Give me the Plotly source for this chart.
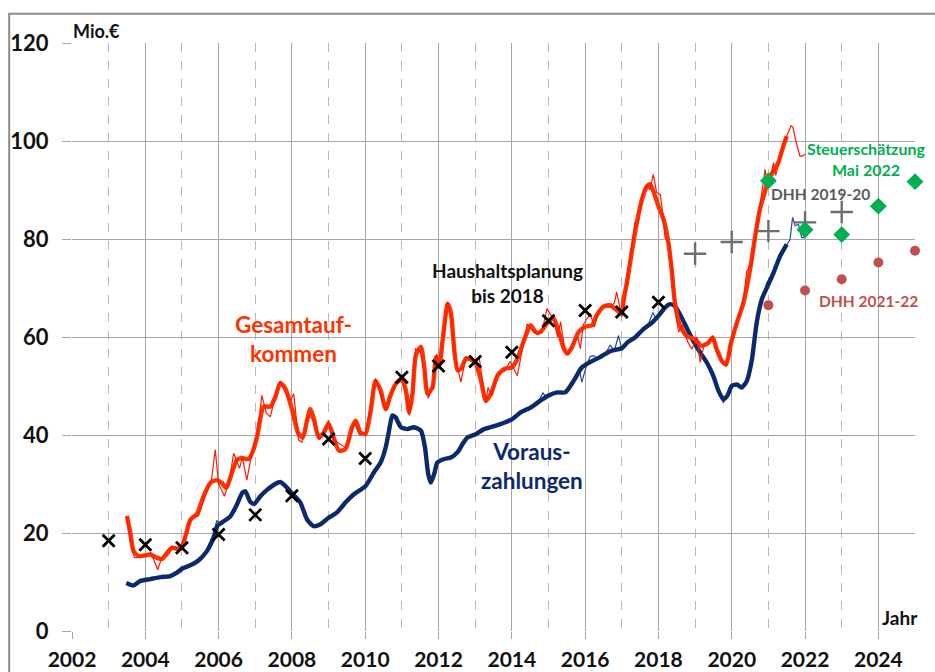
import plotly.graph_objects as go

# ---------------- data ----------------
# Gesamtaufkommen, smoothed (thick red)
ges_x = [2003.50, 2003.59, 2003.68, 2003.82, 2003.98, 2004.14, 2004.27, 2004.45, 2004.59, 2004.73,
         2004.86, 2004.98, 2005.12, 2005.23, 2005.41, 2005.59, 2005.77, 2005.95, 2006.09, 2006.21,
         2006.36, 2006.50, 2006.64, 2006.82, 2006.95, 2007.05, 2007.23, 2007.41, 2007.55, 2007.68,
         2007.82, 2008.00, 2008.18, 2008.30, 2008.41, 2008.50, 2008.59, 2008.73, 2008.87, 2009.00,
         2009.14, 2009.28, 2009.46, 2009.64, 2009.74, 2009.87, 2010.01, 2010.15, 2010.28, 2010.42,
         2010.56, 2010.69, 2010.83, 2011.00, 2011.11, 2011.20, 2011.29, 2011.38, 2011.52, 2011.61,
         2011.70, 2011.84, 2011.93, 2012.02, 2012.11, 2012.25, 2012.34, 2012.43, 2012.52, 2012.61,
         2012.75, 2012.89, 2013.00, 2013.15, 2013.29, 2013.43, 2013.61, 2013.79, 2014.00, 2014.15,
         2014.33, 2014.51, 2014.65, 2014.78, 2014.99, 2015.14, 2015.28, 2015.42, 2015.51, 2015.64,
         2015.82, 2016.00, 2016.19, 2016.32, 2016.50, 2016.68, 2016.86, 2017.00, 2017.05, 2017.14,
         2017.27, 2017.41, 2017.55, 2017.68, 2017.77, 2017.86, 2018.00, 2018.14, 2018.27, 2018.36,
         2018.45, 2018.59, 2018.77, 2019.00, 2019.18, 2019.36, 2019.48, 2019.59, 2019.73, 2019.85,
         2019.98, 2020.14, 2020.32, 2020.50, 2020.64, 2020.77, 2020.91, 2020.98, 2021.14, 2021.27,
         2021.41, 2021.50]
ges_y = [23.5, 20.0, 16.3, 15.3, 15.4, 15.6, 15.1, 14.7, 15.8, 17.0,
         16.8, 17.0, 20.0, 22.7, 23.9, 27.5, 30.2, 30.8, 30.2, 29.2,
         32.2, 34.9, 35.3, 35.1, 37.0, 39.7, 45.8, 45.8, 47.8, 50.6,
         49.5, 45.3, 40.2, 39.5, 42.9, 45.3, 43.6, 39.5, 40.5, 42.3,
         39.5, 36.8, 37.1, 41.6, 42.9, 40.5, 40.2, 45.0, 51.1, 49.1,
         45.3, 48.1, 50.4, 51.5, 49.1, 44.6, 48.4, 56.2, 58.0, 53.9,
         48.4, 49.8, 55.9, 54.2, 59.3, 66.8, 64.8, 57.3, 53.2, 53.5,
         55.6, 55.4, 54.9, 51.4, 47.0, 48.4, 52.1, 53.5, 53.8, 55.5,
         59.3, 62.4, 61.0, 61.0, 63.1, 63.8, 61.0, 57.6, 56.6, 57.9,
         61.0, 62.1, 62.4, 64.5, 66.2, 66.5, 65.5, 64.8, 67.7, 71.1,
         77.2, 83.3, 88.1, 90.7, 91.2, 89.8, 86.7, 84.0, 79.3, 73.8,
         67.0, 62.2, 60.2, 59.5, 58.2, 58.8, 59.9, 57.5, 55.1, 54.4,
         58.8, 62.9, 67.0, 73.8, 80.6, 86.1, 89.8, 91.8, 93.9, 95.6,
         99.0, 101.0]

# Gesamtaufkommen, monthly raw (thin red)
ges_raw_x = [2003.50, 2003.60, 2003.70, 2003.85, 2004.00, 2004.15, 2004.34, 2004.45, 2004.60, 2004.75,
             2004.90, 2005.00, 2005.15, 2005.30, 2005.45, 2005.65, 2005.80, 2005.91, 2006.00, 2006.16,
             2006.30, 2006.41, 2006.57, 2006.65, 2006.77, 2006.90, 2007.05, 2007.18, 2007.30, 2007.41,
             2007.55, 2007.68, 2007.80, 2007.95, 2008.05, 2008.18, 2008.27, 2008.45, 2008.60, 2008.75,
             2008.90, 2009.00, 2009.14, 2009.32, 2009.45, 2009.55, 2009.70, 2009.85, 2010.00, 2010.15,
             2010.28, 2010.42, 2010.56, 2010.70, 2010.85, 2011.00, 2011.11, 2011.20, 2011.30, 2011.37,
             2011.50, 2011.62, 2011.72, 2011.85, 2011.95, 2012.05, 2012.15, 2012.25, 2012.35, 2012.45,
             2012.61, 2012.75, 2012.90, 2013.00, 2013.11, 2013.22, 2013.29, 2013.35, 2013.45, 2013.60,
             2013.80, 2013.95, 2014.15, 2014.30, 2014.42, 2014.55, 2014.70, 2014.85, 2014.96, 2015.14,
             2015.25, 2015.33, 2015.45, 2015.55, 2015.65, 2015.80, 2015.87, 2015.95, 2016.14, 2016.25,
             2016.35, 2016.50, 2016.68, 2016.80, 2016.86, 2017.00, 2017.05, 2017.15, 2017.27, 2017.36,
             2017.45, 2017.55, 2017.68, 2017.77, 2017.86, 2017.95, 2018.05, 2018.14, 2018.18, 2018.30,
             2018.38, 2018.45, 2018.55, 2018.65, 2018.80, 2018.91, 2019.05, 2019.14, 2019.25, 2019.36,
             2019.48, 2019.60, 2019.73, 2019.85, 2019.95, 2020.14, 2020.32, 2020.41, 2020.55, 2020.64,
             2020.77, 2020.91, 2020.98, 2021.05, 2021.14, 2021.20, 2021.30, 2021.41, 2021.50, 2021.62,
             2021.67, 2021.75, 2021.86, 2021.93, 2022.00]
ges_raw_y = [23.0, 18.0, 15.0, 15.0, 15.5, 16.0, 12.5, 15.0, 16.5, 17.2,
             16.5, 17.5, 21.0, 23.5, 23.5, 28.0, 30.5, 37.0, 30.0, 27.5,
             31.0, 36.3, 33.2, 35.5, 30.8, 36.0, 40.0, 48.1, 44.5, 43.7,
             48.0, 51.0, 49.0, 47.0, 48.4, 39.0, 38.5, 44.0, 43.0, 39.0,
             41.0, 43.0, 39.0, 38.2, 37.5, 38.5, 42.5, 40.0, 40.5, 45.5,
             51.5, 48.5, 45.0, 48.5, 50.5, 51.0, 48.5, 44.0, 49.0, 57.6,
             57.0, 53.0, 47.5, 50.0, 56.5, 54.0, 60.0, 67.0, 64.0, 56.0,
             50.8, 56.0, 55.0, 55.5, 55.9, 50.0, 46.5, 49.7, 48.0, 52.5,
             53.0, 55.0, 52.1, 58.0, 62.7, 61.5, 60.5, 62.0, 65.8, 63.5,
             60.0, 63.1, 57.0, 56.5, 58.5, 60.0, 57.6, 62.5, 64.8, 62.0,
             65.0, 66.5, 66.0, 67.0, 69.2, 64.1, 66.0, 71.5, 78.0, 83.3,
             83.5, 88.5, 91.0, 90.0, 93.2, 89.5, 89.1, 84.0, 80.3, 79.0,
             73.0, 66.0, 61.0, 62.5, 59.0, 57.5, 60.0, 54.8, 58.5, 59.0,
             60.0, 57.0, 55.0, 54.0, 58.0, 63.0, 67.5, 73.5, 75.0, 80.0,
             86.5, 94.2, 91.0, 92.5, 95.6, 93.0, 96.0, 99.5, 101.0, 103.1,
             102.8, 100.0, 96.9, 96.9, 97.3]

# Vorauszahlungen, smoothed (thick navy)
vor_x = [2003.48, 2003.68, 2003.86, 2004.14, 2004.41, 2004.68, 2004.86, 2005.00, 2005.23, 2005.45,
         2005.68, 2005.86, 2005.97, 2006.14, 2006.32, 2006.50, 2006.64, 2006.73, 2006.86, 2006.97,
         2007.14, 2007.32, 2007.50, 2007.68, 2007.86, 2008.00, 2008.23, 2008.41, 2008.59, 2008.78,
         2009.00, 2009.23, 2009.46, 2009.69, 2010.01, 2010.24, 2010.42, 2010.56, 2010.65, 2010.74,
         2010.83, 2010.97, 2011.15, 2011.33, 2011.52, 2011.63, 2011.72, 2011.79, 2011.88, 2011.97,
         2012.16, 2012.34, 2012.52, 2012.66, 2012.79, 2013.00, 2013.24, 2013.52, 2013.79, 2014.00,
         2014.24, 2014.51, 2014.78, 2014.99, 2015.24, 2015.46, 2015.69, 2015.91, 2016.14, 2016.41,
         2016.68, 2017.00, 2017.14, 2017.36, 2017.59, 2017.82, 2018.00, 2018.18, 2018.32, 2018.45,
         2018.59, 2018.77, 2018.95, 2019.14, 2019.32, 2019.50, 2019.64, 2019.77, 2019.88, 2020.00,
         2020.14, 2020.27, 2020.41, 2020.55, 2020.68, 2020.82, 2020.98, 2021.14, 2021.32, 2021.50]
vor_y = [9.8, 9.3, 10.2, 10.6, 11.0, 11.2, 11.9, 12.7, 13.4, 14.4,
         16.3, 19.0, 21.5, 22.4, 23.4, 25.8, 28.1, 28.5, 26.4, 25.9,
         27.5, 28.8, 29.8, 30.4, 29.3, 28.1, 26.2, 22.8, 21.4, 21.8,
         23.1, 24.2, 26.2, 27.9, 29.6, 32.4, 34.4, 37.5, 40.9, 44.0,
         43.6, 41.6, 41.2, 41.6, 40.9, 37.5, 32.0, 30.3, 32.0, 34.4,
         35.1, 35.4, 36.5, 38.2, 39.5, 40.1, 41.2, 41.8, 42.5, 43.2,
         44.6, 45.6, 47.0, 48.0, 48.7, 48.7, 51.1, 53.8, 54.9, 55.9,
         57.1, 57.7, 58.8, 59.9, 61.6, 62.9, 64.3, 66.0, 66.7, 66.3,
         64.6, 61.9, 59.2, 56.8, 54.8, 52.0, 49.0, 47.3, 48.0, 50.0,
         50.3, 49.7, 51.0, 55.4, 62.9, 67.7, 70.4, 73.1, 76.5, 78.9]

# Vorauszahlungen, monthly raw (thin navy)
vor_raw_x = [2003.48, 2003.68, 2003.90, 2004.20, 2004.50, 2004.80, 2005.00, 2005.30, 2005.60, 2005.85,
             2005.95, 2006.10, 2006.30, 2006.50, 2006.62, 2006.72, 2006.85, 2007.00, 2007.20, 2007.45,
             2007.68, 2007.90, 2008.05, 2008.25, 2008.45, 2008.65, 2008.90, 2009.20, 2009.50, 2009.80,
             2010.05, 2010.30, 2010.50, 2010.65, 2010.75, 2010.90, 2011.20, 2011.50, 2011.65, 2011.78,
             2011.95, 2012.20, 2012.50, 2012.80, 2013.10, 2013.50, 2013.90, 2014.20, 2014.50, 2014.70,
             2014.85, 2014.95, 2015.20, 2015.45, 2015.70, 2015.85, 2015.91, 2016.05, 2016.14, 2016.23,
             2016.35, 2016.55, 2016.68, 2016.80, 2016.91, 2017.00, 2017.20, 2017.45, 2017.70, 2017.85,
             2017.95, 2018.10, 2018.32, 2018.50, 2018.70, 2018.90, 2019.10, 2019.30, 2019.50, 2019.65,
             2019.77, 2019.90, 2020.05, 2020.20, 2020.35, 2020.45, 2020.55, 2020.68, 2020.82, 2020.95,
             2021.10, 2021.30, 2021.45, 2021.59, 2021.66, 2021.73, 2021.82, 2021.91, 2022.00]
vor_raw_y = [9.6, 9.2, 10.3, 10.7, 11.0, 11.5, 12.6, 13.6, 15.5, 19.5,
             22.5, 21.8, 23.6, 25.5, 28.5, 28.2, 26.0, 26.3, 28.0, 29.6,
             30.4, 29.0, 27.8, 26.0, 22.3, 21.5, 22.6, 24.3, 26.5, 28.5,
             30.0, 33.0, 36.0, 41.0, 44.3, 42.0, 41.3, 41.0, 36.5, 30.5,
             34.0, 35.2, 36.3, 39.6, 40.5, 41.7, 42.8, 44.4, 45.7, 46.5,
             48.6, 47.6, 48.6, 48.9, 51.2, 53.0, 50.8, 54.5, 56.0, 56.2,
             55.5, 56.5, 58.3, 57.3, 60.3, 57.6, 59.0, 60.2, 62.2, 65.0,
             63.5, 65.3, 66.8, 65.8, 62.8, 59.8, 57.0, 55.0, 52.2, 48.8,
             46.6, 48.2, 50.2, 49.8, 50.3, 52.5, 56.0, 63.5, 67.0, 71.0,
             72.5, 76.8, 78.2, 79.9, 84.4, 82.7, 83.0, 80.3, 80.3]

# Haushaltsplanung bis 2018 (x markers)
hh_years = [2003, 2004, 2005, 2006, 2007, 2008, 2009, 2010, 2011, 2012, 2013, 2014, 2015, 2016, 2017, 2018]
hh_vals = [18.4, 17.6, 17.0, 19.7, 23.7, 27.6, 39.2, 35.2, 51.8, 54.1, 55.0, 56.9, 63.3, 65.4, 65.1, 67.1]

# DHH 2019-20 (+ markers)
dhh1920_years = [2019, 2020, 2021, 2022, 2023]
dhh1920_vals = [77.0, 79.4, 81.6, 83.4, 85.5]

# Steuerschätzung Mai 2022 (diamonds)
st_years = [2021, 2022, 2023, 2024, 2025]
st_vals = [91.9, 81.9, 80.9, 86.7, 91.7]

# DHH 2021-22 (circles)
dhh2122_years = [2021, 2022, 2023, 2024, 2025]
dhh2122_vals = [66.5, 69.5, 71.8, 75.2, 77.6]

y_ticks = [0, 20, 40, 60, 80, 100, 120]

# ---------------- styles ----------------
RED = "#FF3300"
RED_THIN = "#FF1A00"
NAVY = "#0B2A6B"
NAVY_THIN = "#2A4A8F"
GREEN = "#00B050"
BROWN = "#C0504D"
GRAYPLUS = "#6E6E6E"
GRID = "#A6A6A6"
FONT = "Lato"

fig = go.Figure()

fig.add_trace(go.Scatter(x=vor_raw_x, y=vor_raw_y, mode="lines",
                         line=dict(color=NAVY_THIN, width=1.2), hoverinfo="skip"))
fig.add_trace(go.Scatter(x=vor_x, y=vor_y, mode="lines",
                         line=dict(color=NAVY, width=4.4, shape="spline", smoothing=0.6)))
fig.add_trace(go.Scatter(x=ges_x, y=ges_y, mode="lines",
                         line=dict(color=RED, width=4.4, shape="spline", smoothing=0.6)))
fig.add_trace(go.Scatter(x=ges_raw_x, y=ges_raw_y, mode="lines",
                         line=dict(color=RED_THIN, width=1.2), hoverinfo="skip"))

fig.add_trace(go.Scatter(x=hh_years, y=hh_vals, mode="markers",
                         marker=dict(symbol="x-thin", size=12, line=dict(color="#000000", width=2.8))))
fig.add_trace(go.Scatter(x=dhh1920_years, y=dhh1920_vals, mode="markers",
                         marker=dict(symbol="cross-thin", size=16, line=dict(color=GRAYPLUS, width=2.4))))
fig.add_trace(go.Scatter(x=st_years, y=st_vals, mode="markers", cliponaxis=False,
                         marker=dict(symbol="diamond", size=13, color=GREEN)))
fig.add_trace(go.Scatter(x=dhh2122_years, y=dhh2122_vals, mode="markers", cliponaxis=False,
                         marker=dict(symbol="circle", size=10, color=BROWN)))

def ann(text, x, y, color, size, xanchor="center", xref="x", yref="y"):
    fig.add_annotation(x=x, y=y, xref=xref, yref=yref, text=text, showarrow=False,
                       xanchor=xanchor, yanchor="middle", align="center",
                       font=dict(family=FONT, size=size, color=color, weight="bold"))

ann("Gesamtauf-<br>kommen", 2008.04, 59.6, RED, 22.5)
ann("Voraus-<br>zahlungen", 2014.56, 33.7, NAVY, 22.5)
ann("Haushaltsplanung<br>bis 2018", 2013.88, 71.0, "#111111", 19)
ann("Steuerschätzung<br>Mai 2022", 2023.66, 96.4, GREEN, 16)
ann("DHH 2019-20", 2022.43, 89.2, "#5A5A5A", 15.5)
ann("DHH 2021-22", 2023.74, 67.3, BROWN, 15.5)
# axis captions placed relative to the plot area
ann("Mio.€", -0.001, 1.0204, "#111111", 18, xanchor="left", xref="paper", yref="paper")
ann("Jahr", 1.006, 0.0226, "#111111", 19, xanchor="right", xref="paper", yref="paper")

fig.update_xaxes(range=[2002, 2025], tickmode="linear", tick0=2002, dtick=2,
                 showgrid=True, gridcolor=GRID, gridwidth=1.3,
                 ticks="outside", ticklen=7, tickcolor=GRID, tickwidth=1.3,
                 ticklabelstandoff=3,
                 minor=dict(tick0=2003, dtick=2, showgrid=True, gridcolor="#B8B8B8",
                            griddash="dash", gridwidth=1.2, ticks=""),
                 zeroline=False, showline=False, automargin=False,
                 tickfont=dict(family=FONT, size=21, color="#111111", weight="bold"))
fig.update_yaxes(range=[0, 120], tickmode="array", tickvals=y_ticks,
                 showgrid=True, gridcolor=GRID, gridwidth=1.3,
                 ticks="outside", ticklen=9, tickcolor=GRID, tickwidth=1.3,
                 ticklabelstandoff=9,
                 zeroline=False, showline=False, automargin=False,
                 tickfont=dict(family=FONT, size=22, color="#111111", weight="bold"))

# outer chart-area frame
fig.add_shape(type="rect", xref="paper", yref="paper", x0=-0.0745, x1=1.2, y0=-0.3, y1=1.0498,
              line=dict(color="#8C8C8C", width=2), layer="below")

fig.update_layout(width=935, height=672, margin=dict(l=72, r=20, t=43, b=41),
                  paper_bgcolor="white", plot_bgcolor="white", showlegend=False)

fig.write_html("out.html", config={"displayModeBar": False},
               post_script="document.body.style.margin='0';")
